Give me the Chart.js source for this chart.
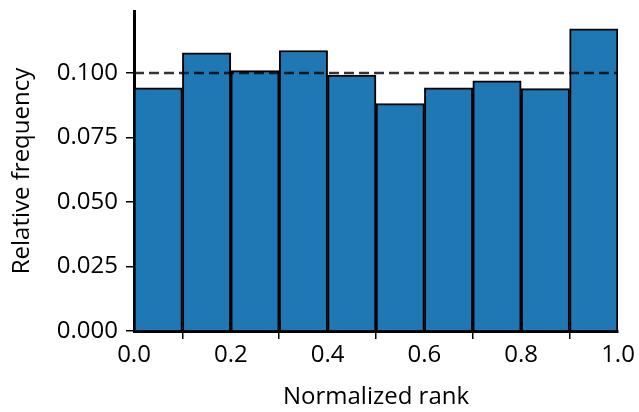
<!DOCTYPE html>
<html>
<head>
<meta charset="utf-8">
<script src="https://cdn.jsdelivr.net/npm/chart.js@4.4.0/dist/chart.umd.min.js"></script>
<style>
  html, body { margin: 0; padding: 0; background: #fff; }
  #wrap { width: 639px; height: 412px; }
</style>
</head>
<body>
<div id="wrap"><canvas id="myChart" width="639" height="412"></canvas></div>
<script>
const binCenters = [0.05, 0.15, 0.25, 0.35, 0.45, 0.55, 0.65, 0.75, 0.85, 0.95];
const frequencies = [0.0942, 0.1078, 0.1009, 0.1087, 0.0992, 0.0881, 0.0942, 0.0969, 0.0939, 0.1171];
const expected = 0.1;
const xTicks = [0, 0.2, 0.4, 0.6, 0.8, 1.0];
const yTicks = [0, 0.025, 0.05, 0.075, 0.1];

const FONT = "'Open Sans', 'Noto Sans', sans-serif";

const ctxt = document.getElementById('myChart').getContext('2d');
const myChart = new Chart(ctxt, {
  type: 'bar',
  data: {
    datasets: [
      {
        type: 'line',
        data: [{x: 0, y: expected}, {x: 1, y: expected}],
        borderColor: 'rgba(0,0,0,0.8)',
        borderWidth: 2.5,
        borderDash: [10, 5],
        pointRadius: 0,
        fill: false,
        order: 0
      },
      {
        data: binCenters.map((c, i) => ({x: c, y: frequencies[i]})),
        backgroundColor: '#1f77b4',
        borderColor: '#000',
        borderWidth: 2,
        borderSkipped: 'bottom',
        barPercentage: 1,
        categoryPercentage: 1,
        order: 1
      }
    ]
  },
  options: {
    responsive: false,
    animation: false,
    layout: { padding: { top: 11, right: 21, left: 0, bottom: 0 } },
    plugins: { legend: { display: false }, tooltip: { enabled: false } },
    scales: {
      x: {
        type: 'linear',
        offset: false,
        min: 0,
        max: 1,
        afterBuildTicks: s => { s.ticks = xTicks.map(v => ({value: v})); },
        afterFit: s => { s.height = 81; s.paddingLeft = 0; s.paddingRight = 0; },
        ticks: {
          color: '#000',
          font: { family: FONT, size: 24 },
          padding: 2,
          maxRotation: 0,
          callback: v => v.toFixed(1)
        },
        grid: { display: true, drawOnChartArea: false, drawTicks: true, tickLength: 8, color: '#000', lineWidth: 1.5 },
        border: { display: true, color: '#000', width: 3 },
        title: { display: true, text: 'Normalized rank', color: '#000', font: { family: FONT, size: 24 }, padding: { top: 0, bottom: 0 } }
      },
      y: {
        min: 0,
        max: 0.124,
        afterBuildTicks: s => { s.ticks = yTicks.map(v => ({value: v})); },
        afterFit: s => { s.width = 134; s.paddingTop = 0; s.paddingBottom = 0; },
        ticks: {
          color: '#000',
          font: { family: FONT, size: 24 },
          padding: 8,
          callback: v => v.toFixed(3)
        },
        grid: { display: true, drawOnChartArea: false, drawTicks: true, tickLength: 8, color: '#000', lineWidth: 1.5 },
        border: { display: true, color: '#000', width: 3 },
        title: { display: true, text: 'Relative frequency', color: '#000', font: { family: FONT, size: 24 }, padding: { top: 8, bottom: 0 } }
      }
    }
  }
});
</script>
</body>
</html>
